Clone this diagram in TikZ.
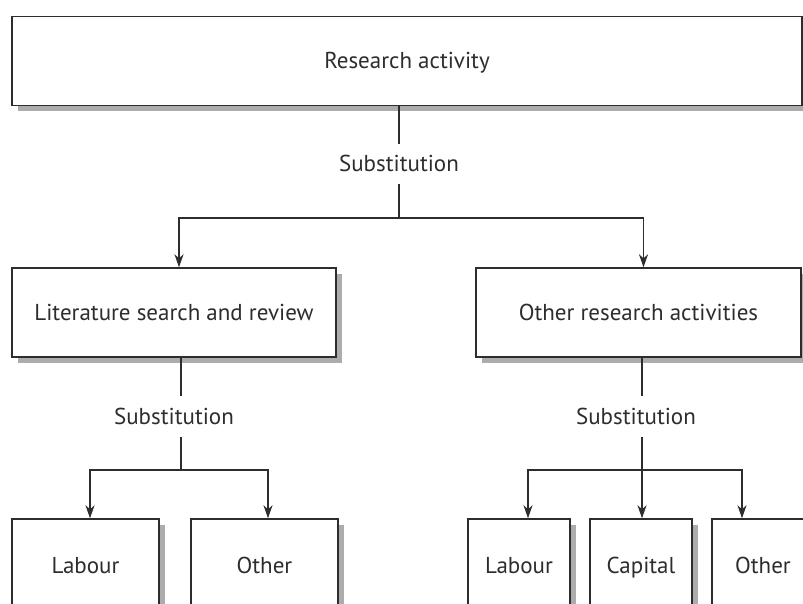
\documentclass[tikz,border=0pt]{standalone}
\usepackage{fontspec}
\setmainfont{PT Sans}
\usetikzlibrary{arrows.meta, shadows}

\definecolor{boxshade}{RGB}{172,172,172}
\definecolor{inkgray}{RGB}{45,45,45}

\begin{document}
\begin{tikzpicture}[x=1pt, y=-1pt,
    box/.style={draw=inkgray, line width=1.4pt, fill=white,
                minimum width=#1, minimum height=89pt, inner sep=0pt,
                text height=18pt, text depth=2pt,
                font=\fontsize{23}{27}\selectfont, text=inkgray,
                drop shadow={shadow xshift=6pt, shadow yshift=-6pt,
                             fill=boxshade, opacity=1}},
    subst/.style={minimum height=40pt, inner sep=0pt,
                  text height=18pt, text depth=2pt,
                  font=\fontsize{23}{27}\selectfont, text=inkgray},
    link/.style={draw=inkgray, line width=1.3pt},
    arr/.style={link, -{Stealth[length=13pt, width=9pt, inset=4pt]}}
  ]
    \useasboundingbox (0,0) rectangle (803,604);
    \clip (0,0) rectangle (803,604);

    % boxes
    \node[box=790pt] (top) at (407,61) {Research activity};
    \node[box=324pt] (lit) at (174,312.5) {Literature search and review};
    \node[box=325pt] (orsch) at (638.5,312.5) {Other research activities};

    \node[box=147pt, minimum height=92pt] (lab1) at (85.5,565) {Labour};
    \node[box=147pt, minimum height=92pt] (oth1) at (264.5,565) {Other};
    \node[box=102pt, minimum height=92pt] (lab2) at (519,565) {Labour};
    \node[box=102pt, minimum height=92pt] (cap) at (641,565) {Capital};
    \node[box=102pt, minimum height=92pt] (oth2) at (763,565) {Other};

    % substitution labels
    \node[subst] (sub0) at (399,164) {Substitution};
    \node[subst] (sub1) at (174,416.5) {Substitution};
    \node[subst] (sub2) at (636,416.5) {Substitution};

    \coordinate (j0) at (399,218);
    \coordinate (j1) at (181,470);
    \coordinate (j2) at (642,470);

    % top level
    \draw[link] (top.south -| sub0) -- (sub0.north);
    \draw[link] (sub0.south) -- (j0);
    \draw[arr] (j0) -| ([xshift=5pt]lit.north);
    \draw[arr] (j0) -| ([xshift=5pt]orsch.north);

    % literature branch
    \draw[link] (lit.south -| j1) -- (j1 |- sub1.north);
    \draw[link] (j1 |- sub1.south) -- (j1);
    \draw[arr] (j1) -| ([xshift=4.5pt]lab1.north);
    \draw[arr] (j1) -| ([xshift=3.5pt]oth1.north);

    % other research branch
    \draw[link] (orsch.south -| j2) -- (j2 |- sub2.north);
    \draw[link] (j2 |- sub2.south) -- (j2);
    \draw[arr] (j2) -| ([xshift=9pt]lab2.north);
    \draw[arr] (j2) -- (j2 |- cap.north);
    \draw[arr] (j2) -| ([xshift=-21pt]oth2.north);
\end{tikzpicture}
\end{document}
